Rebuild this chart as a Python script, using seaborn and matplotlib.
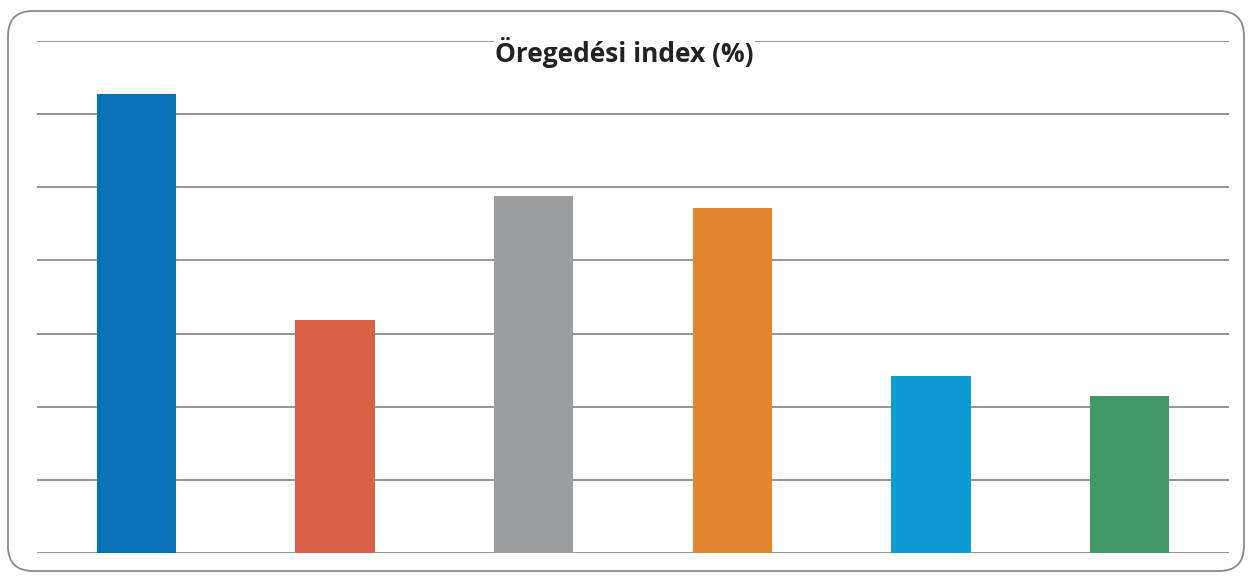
import matplotlib
matplotlib.use("Agg")
import matplotlib.pyplot as plt
from matplotlib.patches import FancyBboxPatch
import seaborn as sns
import pandas as pd

# values (gridlines assumed at steps of 50)
categories = ["A", "B", "C", "D", "E", "F"]
values = [314, 159, 244, 236, 121, 107]
colors = ["#0572b6", "#d95f47", "#9b9d9f", "#e0872f", "#0b9bd7", "#3f9a68"]

df = pd.DataFrame({"cat": categories, "val": values})

sns.set_style("white")
fig = plt.figure(figsize=(12.49, 5.77), dpi=100)
ax = fig.add_axes([37 / 1249, 1 - 553 / 577, 1192 / 1249, 512 / 577])

sns.barplot(data=df, x="cat", y="val", hue="cat", palette=colors,
            width=0.4, legend=False, ax=ax, saturation=1, zorder=3,
            linewidth=0)

ax.set_ylim(0, 350)
ax.set_yticks(range(0, 351, 50))
ax.yaxis.grid(True, color="#8c8c8c", linewidth=1.3, zorder=0)
ax.set_axisbelow(True)
ax.set_xticks([])
ax.tick_params(left=False, labelleft=False)
ax.set_xlabel("")
ax.set_ylabel("")
for s in ax.spines.values():
    s.set_visible(False)

fig.text(0.5, 1 - 53 / 577, "Öregedési index (%)", ha="center", va="center",
         fontsize=19, fontweight="bold", family="Open Sans", color="#222222",
         bbox=dict(facecolor="white", edgecolor="none", pad=0.5))

border = FancyBboxPatch((8 / 1249, 6 / 577), 1236 / 1249, 560 / 577,
                        boxstyle="round,pad=0,rounding_size=0.02",
                        transform=fig.transFigure, fill=False,
                        edgecolor="#8a8a8a", linewidth=1.3,
                        mutation_aspect=1249 / 577)
fig.patches.append(border)

fig.savefig("out.png", dpi=100)
